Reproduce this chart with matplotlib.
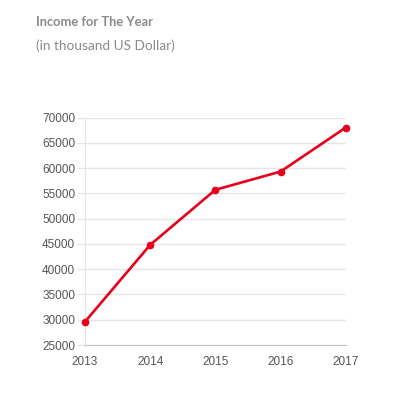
import matplotlib.pyplot as plt

# data
years = [2013, 2014, 2015, 2016, 2017]
income = [29600, 44800, 55700, 59300, 68000]
y_ticks = [25000, 30000, 35000, 40000, 45000, 50000, 55000, 60000, 65000, 70000]

fig = plt.figure(figsize=(4.08, 3.97), dpi=100)
ax = fig.add_axes([85 / 408, 1 - 345 / 397, (345.7 - 85) / 408, (345 - 117.5) / 397])

ax.plot(years, income, color="#e8001c", linewidth=1.9, marker="o",
        markersize=4.5, solid_capstyle="round", zorder=3, clip_on=False)

ax.set_xlim(years[0], years[-1])
ax.set_ylim(y_ticks[0], y_ticks[-1])
ax.set_xticks(years)
ax.set_yticks(y_ticks)

ax.grid(axis="y", color="#e6e6e6", linewidth=1)
ax.set_axisbelow(True)

for side in ["top", "right"]:
    ax.spines[side].set_visible(False)
ax.spines["left"].set_color("#e6e6e6")
ax.spines["bottom"].set_color("#c4c4c4")

ax.tick_params(axis="y", length=6, width=1, color="#e6e6e6", pad=1,
               labelsize=8.5, labelcolor="#555555")
ax.tick_params(axis="x", length=0, pad=8, labelsize=8.5, labelcolor="#555555")
for lbl in ax.get_xticklabels() + ax.get_yticklabels():
    lbl.set_family("Liberation Sans")

fig.text(36 / 408, 1 - 22 / 397, "Income for The Year", fontsize=9.3,
         fontweight="bold", color="#8a8a8a", family="Lato", va="center")
fig.text(36 / 408, 1 - 46 / 397, "(in thousand US Dollar)", fontsize=9.8,
         color="#8a8a8a", family="Lato", va="center")

fig.savefig("out.png", dpi=100)
